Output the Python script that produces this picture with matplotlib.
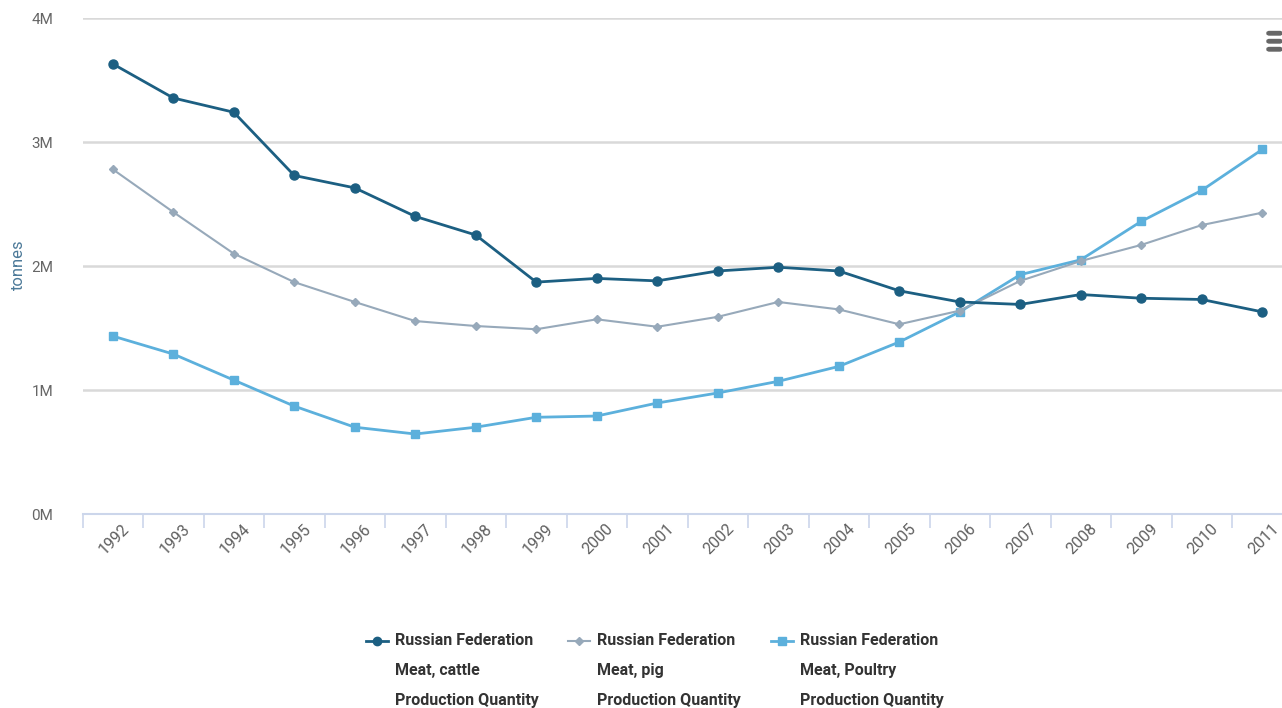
import matplotlib
matplotlib.use("Agg")
import matplotlib.pyplot as plt
from matplotlib.lines import Line2D
from matplotlib.patches import FancyBboxPatch
import matplotlib.transforms as mtrans

years = [str(y) for y in range(1992, 2012)]
cattle = [3.63, 3.355, 3.24, 2.73, 2.63, 2.40, 2.25, 1.87, 1.90, 1.88,
          1.96, 1.99, 1.96, 1.80, 1.71, 1.69, 1.77, 1.74, 1.73, 1.63]
pig = [2.78, 2.435, 2.10, 1.87, 1.71, 1.556, 1.516, 1.49, 1.57, 1.51,
       1.59, 1.71, 1.65, 1.53, 1.64, 1.88, 2.04, 2.17, 2.33, 2.43]
poultry = [1.435, 1.29, 1.08, 0.87, 0.70, 0.645, 0.70, 0.78, 0.79, 0.895,
           0.976, 1.07, 1.19, 1.387, 1.63, 1.93, 2.05, 2.36, 2.61, 2.94]
yticks = [0, 1, 2, 3, 4]
ytick_labels = ["0M", "1M", "2M", "3M", "4M"]
series_labels = ["Russian Federation\nMeat, cattle\nProduction Quantity",
                 "Russian Federation\nMeat, pig\nProduction Quantity",
                 "Russian Federation\nMeat, Poultry\nProduction Quantity"]

c_cattle = "#1c5f82"
c_pig = "#97a9ba"
c_poultry = "#5cb0dc"

W, H = 1282, 708
fig = plt.figure(figsize=(W / 100, H / 100), dpi=100)
left_px, right_px, top_px, bot_px = 82.5, 1282, 18, 514
ax = fig.add_axes([left_px / W, 1 - bot_px / H, (right_px - left_px) / W, (bot_px - top_px) / H])

step = 60.5
x = list(range(len(years)))

ax.plot(x, cattle, color=c_cattle, lw=2, marker="o", ms=6.5, zorder=5)
ax.plot(x, pig, color=c_pig, lw=1.5, marker="D", ms=4.5, zorder=4)
ax.plot(x, poultry, color=c_poultry, lw=2, marker="s", ms=6, zorder=3)

for s in ["top", "right", "left"]:
    ax.spines[s].set_visible(False)
ax.spines["bottom"].set_color("#ccd6eb")
ax.spines["bottom"].set_linewidth(1.5)

ax.set_yticks(yticks)
ax.set_yticklabels(ytick_labels, color="#666666", fontsize=11, family="Roboto")
ax.tick_params(axis="y", length=0, pad=21)
ax.grid(axis="y", color="#d9d9d9", lw=1.8)
ax.set_axisbelow(True)

ax.set_xticks(x)
ax.set_xticklabels(years, rotation=45, ha="right", va="top", rotation_mode="anchor",
                   color="#606060", fontsize=11.5, family="Roboto")
ax.tick_params(axis="x", which="major", length=0, pad=5)
ax.set_xticks([i - 0.5 for i in range(len(years) + 1)], minor=True)
ax.tick_params(axis="x", which="minor", length=10, color="#ccd6eb", width=1.2)
off = mtrans.ScaledTranslation(9 / 100, 0, fig.dpi_scale_trans)
for lbl in ax.get_xticklabels():
    lbl.set_transform(lbl.get_transform() + off)

ax.set_xlim(-0.5, -0.5 + (right_px - left_px) / step)
ax.set_ylim(0, 4)

ax.set_ylabel("tonnes", color="#4d7a99", fontsize=12, family="Roboto")
ax.yaxis.set_label_coords((26 - left_px) / (right_px - left_px), (bot_px - 265) / (bot_px - top_px))

# legend
entries = [(366, c_cattle, "o", 6, 2), (568, c_pig, "D", 4.5, 1.5), (771, c_poultry, "s", 6, 2)]
for (xp, col, mk, ms, lw), lab in zip(entries, series_labels):
    yl = 1 - 641 / H
    fig.add_artist(Line2D([xp / W, (xp + 22) / W], [yl, yl], color=col, lw=lw,
                          transform=fig.transFigure))
    fig.add_artist(Line2D([(xp + 11) / W], [yl], color=col, marker=mk, ms=ms,
                          transform=fig.transFigure))
    fig.text((xp + 29) / W, 1 - 633 / H, lab, ha="left", va="top", fontsize=11.5,
             fontweight="bold", family="Roboto", color="#333333", linespacing=2.25,
             transform=fig.transFigure)

# menu icon
for yb in [33, 41, 49]:
    fig.add_artist(FancyBboxPatch((1267 / W, 1 - (yb + 2) / H), 15 / W, 3.5 / H,
                                  boxstyle="round,pad=0,rounding_size=0.002",
                                  color="#666666", transform=fig.transFigure))

fig.savefig("out.png", dpi=100)
